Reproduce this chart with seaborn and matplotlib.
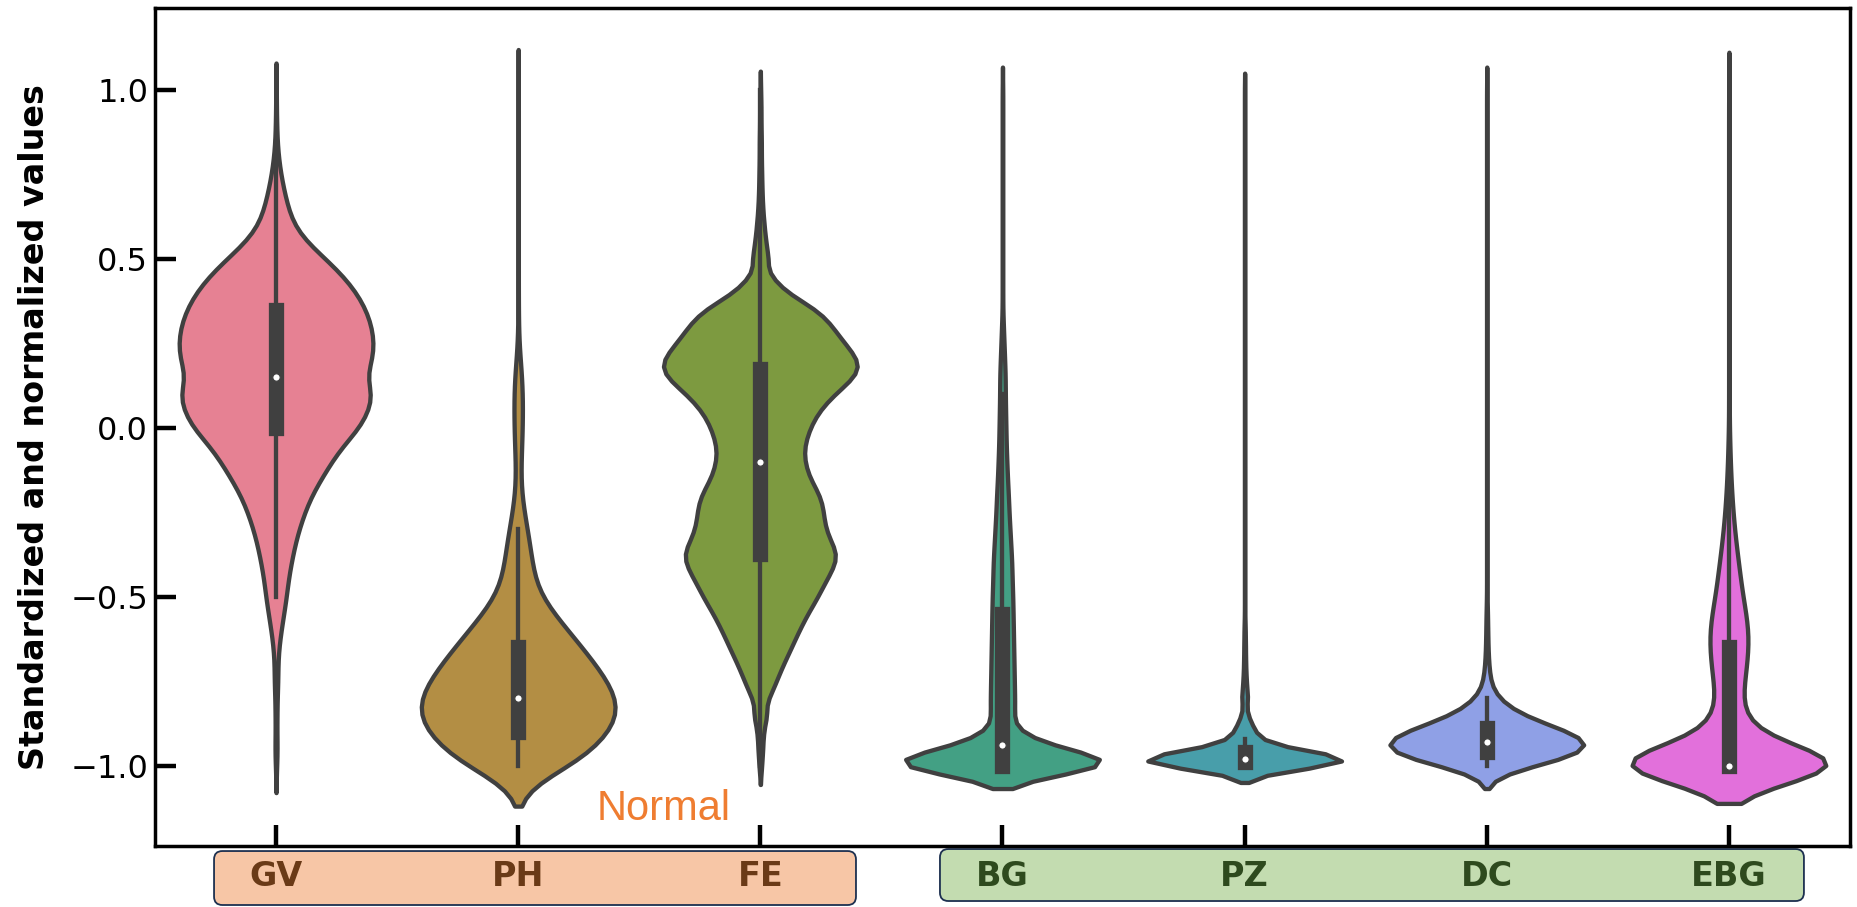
import numpy as np
import pandas as pd
import matplotlib
matplotlib.use("Agg")
import matplotlib.pyplot as plt
from matplotlib import cbook
from matplotlib.patches import FancyBboxPatch
import seaborn as sns

# ---------------------------------------------------------------------------
# Data: binned observations (value, number of observations) per group
# ---------------------------------------------------------------------------
categories = ["GV", "PH", "FE", "BG", "PZ", "DC", "EBG"]
normal_groups = ["GV", "PH", "FE"]

gv_values = [1.0, 0.95, 0.9, 0.85, 0.8, 0.75, 0.7, 0.65, 0.6, 0.55, 0.5, 0.45, 0.4,
             0.35, 0.3, 0.25, 0.2, 0.15, 0.1, 0.05, 0.0, -0.05, -0.1, -0.15, -0.2,
             -0.25, -0.3, -0.35, -0.4, -0.45, -0.5, -0.55, -0.6, -0.65, -0.7, -0.75,
             -0.8, -0.85, -0.9, -0.95, -1.0]
gv_counts = [1, 1, 2, 3, 7, 14, 24, 36, 52, 90, 148, 200, 240,
             268, 285, 292, 288, 262, 292, 275, 250, 200, 165, 135, 105,
             85, 68, 55, 45, 36, 31, 23, 15, 8, 5, 6,
             3, 3, 2, 4, 2]

ph_values = [1.0, 0.9, 0.8, 0.7, 0.6, 0.5, 0.4, 0.3, 0.2, 0.15, 0.1, 0.05, 0.0,
             -0.05, -0.1, -0.15, -0.2, -0.25, -0.3, -0.35, -0.4, -0.45, -0.5,
             -0.55, -0.6, -0.65, -0.7, -0.75, -0.8, -0.85, -0.9, -0.95, -1.0]
ph_counts = [1, 1, 1, 1, 1, 1, 1, 2, 7, 11, 13, 13, 12,
             11, 8, 6, 9, 17, 27, 35, 41, 46, 60,
             105, 145, 186, 226, 262, 292, 305, 272, 212, 200]

# FE: coarse bins in the tails, finer bins through the body
fe_values = [1.0, 0.95, 0.9, 0.85, 0.8, 0.75, 0.7, 0.65, 0.6, 0.55, 0.5,
             0.45, 0.425, 0.4, 0.375, 0.35, 0.325, 0.3, 0.275, 0.25, 0.225,
             0.2, 0.175, 0.15, 0.125, 0.1, 0.075, 0.05, 0.025, 0.0, -0.025,
             -0.05, -0.075, -0.1, -0.125, -0.15, -0.175, -0.2, -0.225, -0.25,
             -0.275, -0.3, -0.325, -0.35, -0.375, -0.4, -0.425, -0.45, -0.475,
             -0.5, -0.525, -0.55, -0.575, -0.6, -0.625, -0.65, -0.675, -0.7,
             -0.725, -0.75, -0.775, -0.8,
             -0.85, -0.9, -0.95, -1.0]
fe_counts = [1, 2, 2, 3, 3, 4, 5, 7, 11, 16, 24,
             17, 25, 37, 60, 82, 95, 104, 112, 122, 132,
             142, 146, 136, 122, 107, 95, 85, 77, 72, 67,
             64, 62, 64, 67, 71, 79, 86, 90, 91,
             92, 94, 99, 105, 114, 108, 103, 95, 89,
             83, 76, 68, 62, 56, 50, 45, 39, 33,
             28, 23, 18, 14,
             20, 9, 7, 4]

bg_values = [1.0, 0.95, 0.9, 0.85, 0.8, 0.75, 0.7, 0.65, 0.6, 0.55, 0.5, 0.45, 0.4,
             0.35, 0.3, 0.25, 0.2, 0.15, 0.1, 0.05, 0.0, -0.05, -0.1, -0.15, -0.2,
             -0.25, -0.3, -0.35, -0.4, -0.45, -0.5, -0.55, -0.6, -0.65, -0.7, -0.75,
             -0.8, -0.85, -0.9, -0.92, -0.94, -0.96, -0.98, -1.0]
bg_counts = [1, 1, 1, 1, 1, 1, 1, 1, 1, 1, 1, 1, 1,
             1, 3, 5, 7, 9, 9, 10, 11, 12, 14, 16, 19,
             21, 24, 27, 30, 31, 33, 34, 35, 36, 37, 38,
             39, 40, 20, 35, 55, 80, 110, 370]

pz_values = [1.0, 0.95, 0.9, 0.85, 0.8, 0.75, 0.7, 0.65, 0.6, 0.55, 0.5, 0.45, 0.4,
             0.35, 0.3, 0.25, 0.2, 0.15, 0.1, 0.05, 0.0, -0.05, -0.1, -0.15, -0.2,
             -0.25, -0.3, -0.35, -0.4, -0.45, -0.5, -0.55, -0.6, -0.65, -0.7, -0.75,
             -0.8, -0.86, -0.88, -0.9, -0.92, -0.94, -0.95, -0.96, -0.97, -0.98,
             -0.99, -1.0]
pz_counts = [1, 1, 1, 1, 1, 1, 1, 1, 1, 1, 1, 1, 1,
             1, 1, 1, 1, 1, 1, 1, 1, 1, 1, 1, 1,
             1, 1, 1, 1, 1, 1, 1, 3, 4, 5, 8,
             15, 10, 15, 20, 28, 22, 28, 35, 50, 200,
             280, 30]

dc_values = [1.0, 0.95, 0.9, 0.85, 0.8, 0.75, 0.7, 0.65, 0.6, 0.55, 0.5, 0.45, 0.4,
             0.35, 0.3, 0.25, 0.2, 0.15, 0.1, 0.05, 0.0, -0.05, -0.1, -0.15, -0.2,
             -0.25, -0.3, -0.35, -0.4, -0.45, -0.5, -0.55, -0.6, -0.65, -0.7, -0.75,
             -0.8, -0.82, -0.83, -0.84, -0.85, -0.86, -0.87, -0.88, -0.89, -0.9,
             -0.91, -0.92, -0.93, -0.94, -0.95, -0.96, -0.97, -0.98, -0.99, -1.0]
dc_counts = [1, 1, 1, 1, 1, 1, 1, 1, 1, 1, 1, 1, 1,
             1, 1, 1, 1, 1, 1, 1, 1, 1, 1, 1, 1,
             1, 1, 1, 1, 1, 1, 3, 4, 5, 8, 15,
             30, 14, 17, 21, 26, 32, 40, 50, 60, 70,
             80, 88, 94, 95, 92, 85, 85, 75, 62, 50]

ebg_values = [1.0, 0.95, 0.9, 0.85, 0.8, 0.75, 0.7, 0.65, 0.6, 0.55, 0.5, 0.45, 0.4,
              0.35, 0.3, 0.25, 0.2, 0.15, 0.1, 0.05, 0.0, -0.05, -0.1, -0.15, -0.2,
              -0.25, -0.3, -0.35, -0.4, -0.45, -0.5, -0.55, -0.6, -0.65, -0.7, -0.75,
              -0.8, -0.85, -0.9, -0.95, -1.0]
ebg_counts = [1, 1, 1, 1, 1, 1, 1, 1, 1, 1, 1, 1, 1,
              1, 1, 1, 1, 1, 1, 1, 1, 3, 4, 6, 9,
              12, 17, 22, 30, 35, 42, 52, 62, 60, 55, 48,
              40, 35, 95, 70, 760]

binned = {
    "GV": (gv_values, gv_counts),
    "PH": (ph_values, ph_counts),
    "FE": (fe_values, fe_counts),
    "BG": (bg_values, bg_counts),
    "PZ": (pz_values, pz_counts),
    "DC": (dc_values, dc_counts),
    "EBG": (ebg_values, ebg_counts),
}

df = pd.concat(
    [pd.DataFrame({"group": g, "value": np.repeat(v, c)}) for g, (v, c) in binned.items()],
    ignore_index=True,
)

# ---------------------------------------------------------------------------
# Styling
# ---------------------------------------------------------------------------
kde_bw = {"GV": 0.040, "PH": 0.060, "FE": 0.028, "BG": 0.034,
          "PZ": 0.025, "DC": 0.034, "EBG": 0.056}
palette = sns.color_palette("husl", len(categories))
line_gray = "#404040"
outline_w = 3.1
box_w = 11.0

plt.rcParams["font.family"] = ["DejaVu Sans"]

fig = plt.figure(figsize=(18.58, 9.07), dpi=100)
ax = fig.add_axes([0.0834, 0.0673, 0.9123, 0.9239])

for i, grp in enumerate(categories):
    sub = df[df["group"] == grp]
    factor = kde_bw[grp] / sub["value"].std()
    sns.violinplot(data=sub, x="group", y="value", order=categories,
                   color=palette[i], saturation=0.75, cut=2,
                   density_norm="width", width=0.8, bw_method=factor,
                   inner=None, linewidth=outline_w, linecolor=line_gray, ax=ax)

# Inner box: whiskers, interquartile bar and white median dot
for i, grp in enumerate(categories):
    obs = df.loc[df["group"] == grp, "value"].to_numpy()
    st = cbook.boxplot_stats(obs)[0]
    ax.plot([i, i], [st["whislo"], st["whishi"]], color=line_gray,
            lw=outline_w, solid_capstyle="projecting", zorder=3)
    ax.plot([i, i], [st["q1"], st["q3"]], color=line_gray,
            lw=box_w, solid_capstyle="projecting", zorder=3)
    ax.scatter([i], [st["med"]], s=28, color="white",
               edgecolor=line_gray, linewidth=0.8, zorder=4)

ax.set_xlim(-0.5, len(categories) - 0.5)
ax.set_ylim(-1.238, 1.243)
ax.set_yticks([-1.0, -0.5, 0.0, 0.5, 1.0])
ax.set_xticks(range(len(categories)))
ax.set_xticklabels(categories)
ax.set_xlabel("")
ax.set_ylabel("Standardized and normalized values", fontsize=24, fontweight="bold")
ax.yaxis.set_label_coords(-0.0615, 0.5)

ax.tick_params(axis="both", direction="in", length=15, width=3.2, color="black")
ax.tick_params(axis="y", labelsize=23, pad=5)
ax.tick_params(axis="x", labelsize=24, pad=10)

brown_txt = "#6a3a17"
green_txt = "#2e4a1e"
for lbl in ax.get_xticklabels():
    lbl.set_fontweight("bold")
    lbl.set_color(brown_txt if lbl.get_text() in normal_groups else green_txt)

for sp in ax.spines.values():
    sp.set_visible(True)
    sp.set_linewidth(2.5)
    sp.set_color("black")

ax.text(1.60, -1.16, "Normal", color="#ef7d31", fontsize=30,
        family=["Liberation Sans", "DejaVu Sans"], ha="center", va="baseline")

# Rounded group boxes behind the category labels
aspect = 1858 / 907
for (x0, x1, y0, y1, face) in [(0.1152, 0.4607, 0.0022, 0.0617, "#f7c6a6"),
                               (0.5059, 0.9709, 0.0066, 0.0639, "#c3dcb0")]:
    fig.add_artist(FancyBboxPatch(
        (x0, y0), x1 - x0, y1 - y0, transform=fig.transFigure,
        boxstyle="round,pad=0,rounding_size=0.0045", mutation_aspect=aspect,
        facecolor=face, edgecolor="#1d3050", linewidth=1.3, zorder=-1))

fig.savefig("out.png", dpi=100)
